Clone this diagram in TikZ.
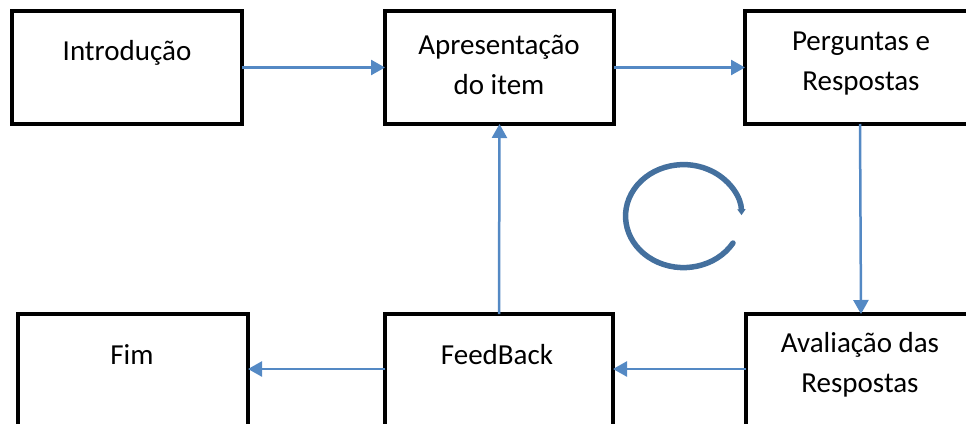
\documentclass[tikz,border=0pt]{standalone}
\usepackage{fontspec}
\setmainfont{Carlito}
\usetikzlibrary{arrows.meta}
\definecolor{flowblue}{RGB}{84,137,196}
\definecolor{cycleblue}{RGB}{68,112,158}
\begin{document}
\begin{tikzpicture}[x=1pt,y=-1pt,
  stepbox/.style={draw=black, line width=4.5pt, fill=white, inner sep=0pt, outer sep=0pt,
    minimum width=230pt, minimum height=113pt},
  lowbox/.style={stepbox, minimum height=116pt},
  caption/.style={font=\fontsize{29}{40}\selectfont, align=center, inner sep=0pt},
  flow/.style={draw=flowblue, line width=2.5pt, -{Triangle[length=14pt,width=15pt]}}]
\useasboundingbox (0,0) rectangle (966,423);
\clip (0,0) rectangle (966,423);

% top row
\node[stepbox] (b1) at (127,67.5) {};
\node[stepbox, minimum width=229pt] (b2) at (499.5,67.5) {};
\node[stepbox] (b3) at (860,67.5) {};
% bottom row
\node[lowbox] (b4) at (133,372) {};
\node[lowbox, minimum width=228pt] (b5) at (499,372) {};
\node[lowbox] (b6) at (861,372) {};

% captions
\node[caption] (t1) at (127,53) {Introdução};
\node[caption] (t2) at (499,65) {Apresentação\\do item};
\node[caption] (t3) at (861,64) {Perguntas e\\Respostas};
\node[caption] (t4) at (132,355) {Fim};
\node[caption] (t5) at (497,355) {FeedBack};
\node[caption] (t6) at (860,365) {Avaliação das\\Respostas};

% connectors
\coordinate (row2) at (0,369);
\draw[flow] (b1.east) -- (b2.west);
\draw[flow] (b2.east) -- (b3.west);
\draw[flow] (b3.south) -- (b6.north);
\draw[flow] (b6.west |- row2) -- (b5.east |- row2);
\draw[flow] (b5.west |- row2) -- (b4.east |- row2);
\draw[flow] (b5.north) -- (b2.south);

% cycle symbol: clockwise open ellipse, centre (683.5,216)
\coordinate (cycstart) at (733,243);
\draw[cycleblue, line width=5.5pt, line cap=round, -{Triangle[length=6pt,width=8pt]}]
  (cycstart) arc[start angle=-31.5, end angle=-359, x radius=58pt, y radius=51.5pt];
\end{tikzpicture}
\end{document}
